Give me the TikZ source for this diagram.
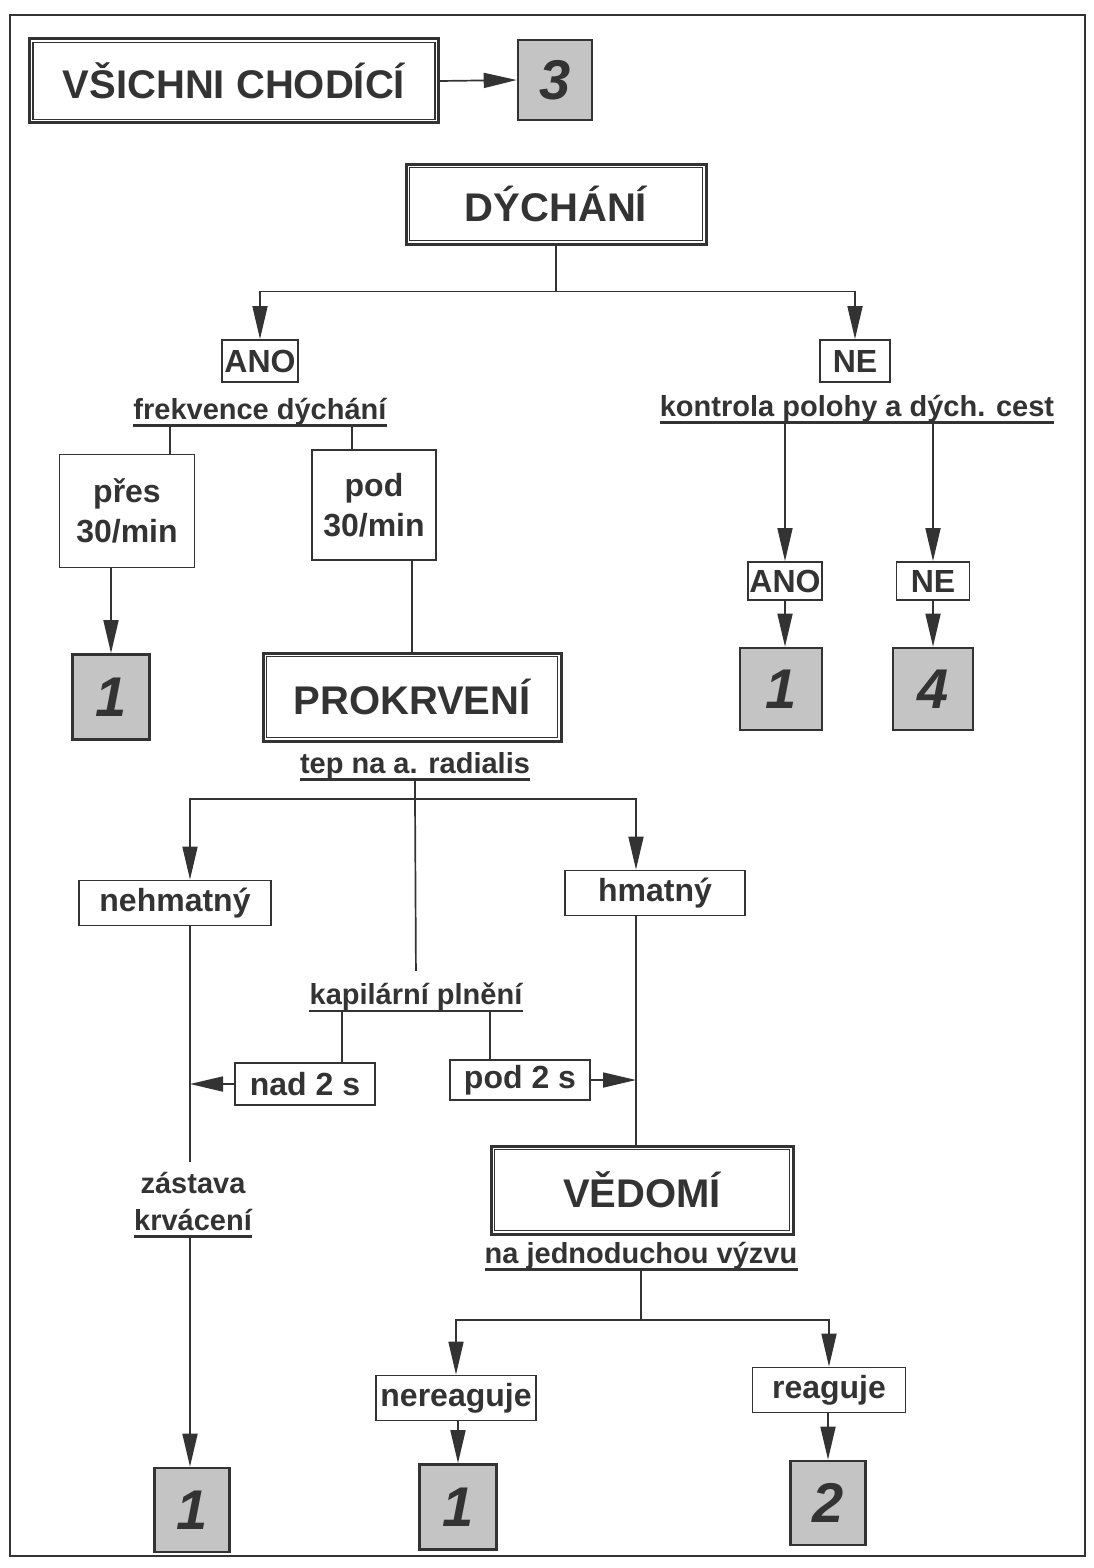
\documentclass[tikz,border=0pt]{standalone}
\usepackage{fontspec}
\setmainfont{Liberation Sans}
\usetikzlibrary{arrows.meta,positioning}
\definecolor{ink}{gray}{0.2}
\definecolor{shade}{gray}{0.77}
\tikzset{title box/.style={draw=ink, line width=3pt, inner sep=0pt, text=ink, font=\fontsize{40}{48}\selectfont\bfseries}}
\tikzset{inner frame/.style={draw=ink, line width=1.3pt}}
\tikzset{answer box/.style={draw=ink, line width=1.8pt, inner sep=0pt, text=ink, align=center, font=\fontsize{32}{40}\selectfont\bfseries}}
\tikzset{group box/.style={draw=ink, line width=2.6pt, fill=shade, inner sep=0pt, text=ink, font=\fontsize{56}{56}\selectfont\bfseries\itshape}}
\tikzset{criterion/.style={inner sep=0pt, text=ink, font=\fontsize{29}{34}\selectfont\bfseries}}
\tikzset{link/.style={draw=ink, line width=1.7pt}}
\tikzset{arrow link/.style={link, -{Triangle[length=33pt,width=15pt]}}}
\tikzset{crit line/.style={draw=ink, line width=2.6pt}}

\begin{document}
\begin{tikzpicture}[x=1pt, y=-1pt]
\useasboundingbox (0,0) rectangle (1093,1568);
\draw[ink, line width=1.4pt] (10,15) rectangle (1085,1556);
% columns of the vertical connectors
\coordinate (cA) at (170,0);
\coordinate (cB) at (352,0);
\coordinate (cL) at (190,0);
\coordinate (cR) at (636,0);
\coordinate (cC) at (342,0);
\coordinate (cD) at (490,0);

% header
\node[title box, minimum width=409pt, minimum height=84pt] (walk) at (234,81) {VŠICHNI CHODÍCÍ};
\node[group box, minimum width=74pt, minimum height=80pt] (g3) at (555,80) {3};
\draw[arrow link] (walk.east) -- (g3.west);

% breathing
\node[title box, minimum width=300pt, minimum height=80pt] (dych) at (556,204) {DÝCHÁNÍ};
\draw[link] (dych.south) -- ++(0,46) coordinate (split1);
\node[answer box, minimum width=76pt, minimum height=42pt] (ano1) at (260,361) {ANO};
\node[answer box, minimum width=70pt, minimum height=42pt] (ne1) at (855,361) {NE};
\draw[arrow link] (split1) -| (ano1.north);
\draw[arrow link] (split1) -| (ne1.north);
\node[criterion] (freq) at (260,412) {frekvence dýchání};
\node[criterion] (airway) at (857,409) {kontrola polohy a dých. cest};

\node[answer box, minimum width=135pt, minimum height=113pt] (over) at (127,511) {přes\\30/min};
\node[answer box, minimum width=124pt, minimum height=110pt] (under) at (374,505) {pod\\30/min};
\draw[link] (freq.south -| cA) -- (over.north -| cA);
\draw[link] (freq.south -| cB) -- (under.north -| cB);
\node[group box, minimum width=77pt, minimum height=85pt] (g1a) at (111,697) {1};
\draw[arrow link] (over.south -| g1a) -- (g1a.north);

\node[answer box, minimum width=74pt, minimum height=38pt] (ano2) at (785,581) {ANO};
\node[answer box, minimum width=73pt, minimum height=38pt] (ne2) at (933,581) {NE};
\draw[arrow link] (airway.south -| ano2) -- (ano2.north);
\draw[arrow link] (airway.south -| ne2) -- (ne2.north);
\node[group box, minimum width=82pt, minimum height=82pt] (g1b) at (781,689) {1};
\node[group box, minimum width=80pt, minimum height=82pt] (g4) at (933,689) {4};
\draw[arrow link] (ano2.south) -- (ano2.south |- g1b.north);
\draw[arrow link] (ne2.south) -- (g4.north);

% perfusion
\node[title box, minimum width=298pt, minimum height=88pt] (perf) at (412,697) {PROKRVENÍ};
\draw[link] (under.south -| perf) -- (perf.north);
\node[criterion] (pulse) at (415,766) {tep na a. radialis};
\draw[link] (pulse.south) -- ++(0,19) coordinate (split2);
\node[answer box, minimum width=192pt, minimum height=45pt] (nopulse) at (175,903) {nehmatný};
\node[answer box, minimum width=180pt, minimum height=45pt] (pulseok) at (655,893) {hmatný};
\draw[arrow link] (split2) -| (nopulse.north -| cL);
\draw[arrow link] (split2) -| (pulseok.north -| cR);

\node[criterion] (refill) at (416,997) {kapilární plnění};
\draw[link, shorten >=12pt] (split2) -- (refill.north);
\node[answer box, minimum width=140pt, minimum height=42pt] (slow) at (305,1084) {nad 2 s};
\node[answer box, minimum width=140pt, minimum height=40pt] (fast) at (520,1080) {pod 2 s};
\draw[link] (refill.south -| cC) -- (slow.north -| cC);
\draw[link] (refill.south -| cD) -- (fast.north -| cD);
\draw[arrow link] (slow.west) -- (slow.west -| cL);
\draw[arrow link] (fast.east) -- (fast.east -| cR);

\node[criterion] (stop) at (193,1183) {zástava};
\node[criterion] (bleed) at (193,1220) {krvácení};
\draw[link, shorten >=10pt] (nopulse.south -| cL) -- (stop.north -| cL);
\node[group box, minimum width=75pt, minimum height=84pt] (g1c) at (192,1510) {1};
\draw[arrow link, shorten <=6pt] (bleed.south -| cL) -- (g1c.north -| cL);

% consciousness
\node[title box, minimum width=302pt, minimum height=88pt] (cons) at (642,1190) {VĚDOMÍ};
\draw[link] (pulseok.south -| cR) -- (cons.north -| cR);
\node[criterion] (call) at (641,1256) {na jednoduchou výzvu};
\draw[link] (call.south) -- ++(0,50) coordinate (split3);
\node[answer box, minimum width=160pt, minimum height=45pt] (noresp) at (456,1398) {nereaguje};
\node[answer box, minimum width=153pt, minimum height=45pt] (resp) at (829,1390) {reaguje};
\draw[arrow link] (split3) -| (noresp.north);
\draw[arrow link] (split3) -| (resp.north);
\node[group box, minimum width=77pt, minimum height=85pt] (g1d) at (458,1507) {1};
\node[group box, minimum width=75pt, minimum height=84pt] (g2) at (828,1503) {2};
\draw[arrow link] (noresp.south -| g1d) -- (g1d.north);
\draw[arrow link] (resp.south -| g2) -- (g2.north);

% inner lines of the title boxes
\foreach \b in {walk, dych, perf, cons}
  \draw[inner frame] ([shift={(5pt,5pt)}]\b.south west) rectangle ([shift={(-5pt,-5pt)}]\b.north east);
% underlined criteria
\foreach \lbl in {freq, airway, pulse, refill, bleed, call}
  \draw[crit line] ([yshift=-6pt]\lbl.base west) -- ([yshift=-6pt]\lbl.base east);
\end{tikzpicture}
\end{document}
